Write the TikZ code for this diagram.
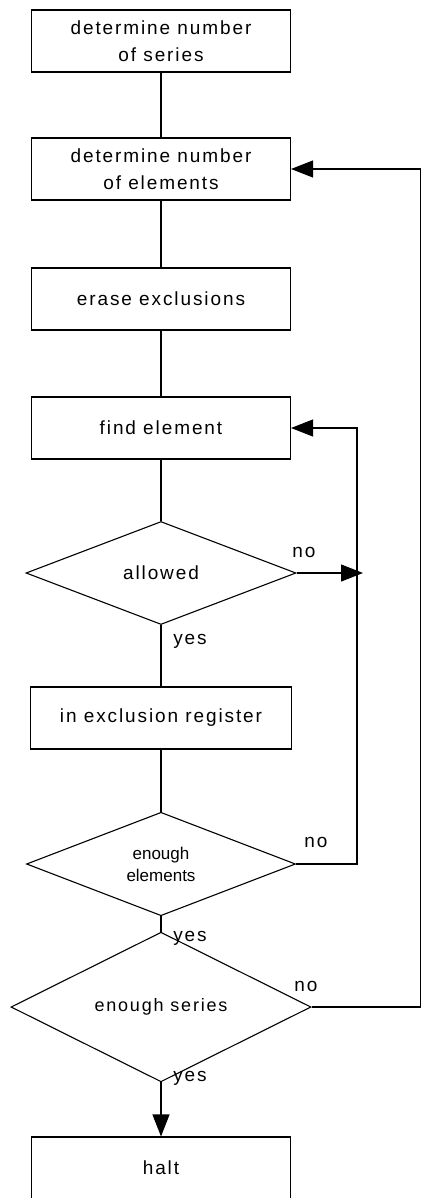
\documentclass[tikz,border=0pt]{standalone}
\usepackage{fontspec}
\setmainfont{Liberation Sans}
\newfontfamily\flowfont[LetterSpace=10]{Liberation Sans}
\usetikzlibrary{shapes.geometric,arrows.meta,positioning,calc}

\begin{document}
\begin{tikzpicture}[x=1pt, y=-1pt,
    box/.style={rectangle, draw, line width=1.1pt, minimum width=259pt, minimum height=62pt, align=center, font=\flowfont\fontsize{19}{27}\selectfont},
    decision/.style={diamond, draw, line width=1.1pt, inner sep=0pt, align=center, font=\flowfont\fontsize{19}{27}\selectfont},
    answer/.style={inner sep=0pt, font=\flowfont\fontsize{19}{22}\selectfont},
    line/.style={line width=1.1pt},
    arrow/.style={-{Triangle[length=22pt,width=17pt]}, line width=1.1pt}
]
    \useasboundingbox (0,0) rectangle (422,1198);

    \node[box] (series) at (161,41) {determine number\\of series};
    \node[box] (elements) at (161,169) {determine number\\of elements};
    \node[box] (erase) at (161,299) {erase exclusions};
    \node[box] (find) at (161,428) {find element};
    \node[decision, minimum width=270pt, minimum height=103pt] (allowed) at (161,573) {allowed};
    \node[box, minimum width=261pt] (register) at (161,718) {in exclusion register};
    \node[decision, minimum width=269pt, minimum height=102pt, font=\fontsize{17}{22}\selectfont] (enoughel) at (161,864) {enough\\elements};
    \node[decision, minimum width=300pt, minimum height=113pt, font=\flowfont\fontsize{18}{22}\selectfont] (enoughser) at (161,1007) {enough series};
    \node[box] (halt) at (161,1168) {halt};

    \coordinate (innerx) at (357,0);
    \coordinate (outerx) at (420.4,0);

    \draw[line] (series) -- (elements);
    \draw[line] (elements) -- (erase);
    \draw[line] (erase) -- (find);
    \draw[line] (find) -- (allowed);
    \draw[line] (allowed) -- (register);
    \draw[line] (register) -- (enoughel);
    \draw[line] (enoughel) -- (enoughser);
    \draw[arrow] (enoughser) -- (halt);

    % back loops
    \draw[arrow] (allowed.east) -- ($(allowed.east -| innerx)+(6,0)$);
    \draw[arrow] (enoughel.east) -- (enoughel.east -| innerx) |- (find.east);
    \draw[arrow] (enoughser.east) -- (enoughser.east -| outerx) |- (elements.east);

    \node[answer] (no1) at (304,552) {no};
    \node[answer] (yes1) at (190,641) {yes};
    \node[answer] (no2) at (316,842) {no};
    \node[answer] (yes2) at (190,938) {yes};
    \node[answer] (no3) at (306,986) {no};
    \node[answer] (yes3) at (190,1078) {yes};
\end{tikzpicture}
\end{document}
